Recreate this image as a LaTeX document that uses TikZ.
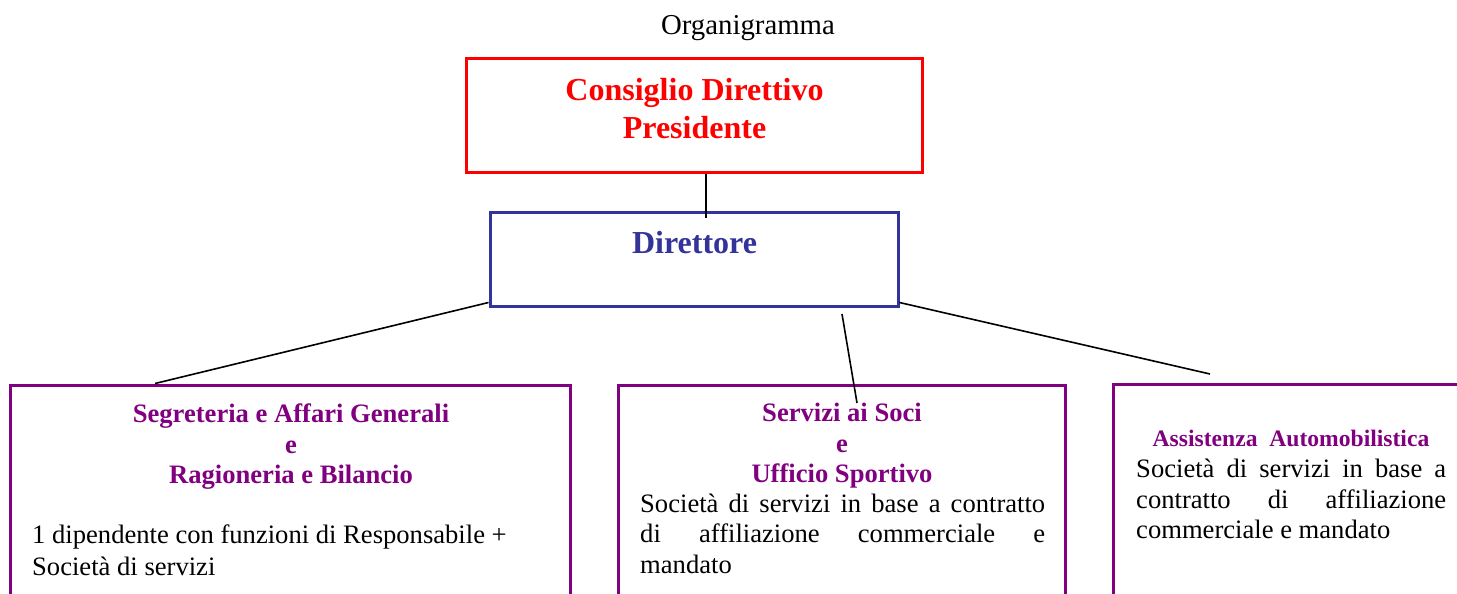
\documentclass[tikz,border=0pt]{standalone}
\usepackage{fontspec}
\setmainfont{Liberation Serif}
\definecolor{cred}{RGB}{255,0,0}
\definecolor{cblue}{RGB}{51,51,153}
\definecolor{cpurple}{RGB}{128,0,128}
\begin{document}
\begin{tikzpicture}[x=1pt,y=-1pt,
 box/.style={draw,rectangle,inner sep=0pt,line width=3pt},
 conn/.style={draw=black,line width=1.6pt},
 body/.style={anchor=base west,inner sep=0pt,font=\fontsize{26.6}{31}\selectfont},
 head/.style={anchor=base,inner sep=0pt,text=cpurple,font=\fontsize{26.6}{31}\selectfont\bfseries},
 headsm/.style={anchor=base,inner sep=0pt,text=cpurple,font=\fontsize{23.6}{28}\selectfont\bfseries},
 big/.style={anchor=base,inner sep=0pt,font=\fontsize{32}{38}\selectfont\bfseries},
]
\useasboundingbox (0,0) rectangle (1457,594);
\clip (0,0) rectangle (1457,594);
\fill[white] (0,0) rectangle (1457,594);

% title
\node[anchor=base,inner sep=0pt,font=\fontsize{28.8}{34}\selectfont] (title) at (748,35) {Organigramma};

% boxes
\node[box,draw=cred,minimum width=456pt,minimum height=113pt] (cd) at (694,115.5) {};
\node[box,draw=cblue,minimum width=408pt,minimum height=94pt] (dir) at (694,259) {};
\node[box,draw=cpurple,minimum width=560pt,minimum height=255pt] (seg) at (290,512.5) {};
\node[box,draw=cpurple,minimum width=447pt,minimum height=255pt] (soc) at (841.5,512.5) {};
\node[box,draw=cpurple,minimum width=380pt,minimum height=255pt] (aut) at (1303,511.5) {};

% box texts
\node[big,text=cred] (cd1) at (694.5,100) {Consiglio Direttivo};
\node[big,text=cred] (cd2) at (694.5,138) {Presidente};
\node[big,text=cblue] (dir1) at (694.5,253) {Direttore};

\node[head] (seg1) at (291,422) {Segreteria e Affari Generali};
\node[head] (seg2) at (291,453) {e};
\node[head] (seg3) at (291,483) {Ragioneria e Bilancio};
\node[body] (seg4) at (32,543) {1 dipendente con funzioni di Responsabile +};
\node[body] (seg5) at (32,575) {Società di servizi};

\node[head] (soc1) at (842,421) {Servizi ai Soci};
\node[head] (soc2) at (842,452) {e};
\node[head] (soc3) at (842,482) {Ufficio Sportivo};
\node[body] (soc4) at (640,512) {\makebox[405pt][s]{Società di servizi in base a contratto}};
\node[body] (soc5) at (640,542) {\makebox[405pt][s]{di affiliazione commerciale e}};
\node[body] (soc6) at (640,573) {mandato};

\node[headsm] (aut1) at (1291,446) {Assistenza\ \ Automobilistica};
\node[body] (aut2) at (1136,477) {\makebox[310pt][s]{Società di servizi in base a}};
\node[body] (aut3) at (1136,508) {\makebox[310pt][s]{contratto di affiliazione}};
\node[body] (aut4) at (1136,538) {commerciale e mandato};

% connectors
\coordinate (c1) at (706,218);
\coordinate (cl) at (155,385);
\coordinate (m1) at (842,314);
\coordinate (m2) at (857,403);
\coordinate (cr) at (1210,374);
\draw[conn] (cd.south -| c1) -- (c1);
\draw[conn] ([yshift=5pt]dir.south west) -- (seg.north -| cl);
\draw[conn] (m1) -- (m2);
\draw[conn] ([yshift=5pt]dir.south east) -- (cr);
\end{tikzpicture}
\end{document}
